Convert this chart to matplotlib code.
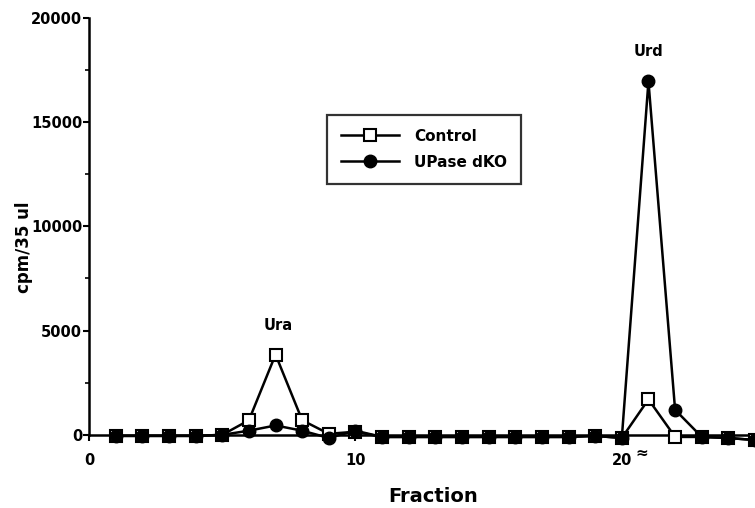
import numpy as np
import matplotlib.pyplot as plt

plt.rcParams['font.family'] = ['DejaVu Sans']
plt.rcParams['font.weight'] = 'bold'

fraction = np.arange(1, 26)
control = [-50, -50, -50, -50, 0, 700, 3850, 700, 50, 150,
           -100, -100, -100, -100, -100, -100, -100, -100, -50, -150,
           1700, -100, -100, -150, -250]
upase_dko = [-50, -50, -50, -50, 0, 200, 450, 200, -150, 200,
             -100, -100, -100, -100, -100, -100, -100, -100, -50, -150,
             16950, 1200, -100, -150, -250]

fig = plt.figure(figsize=(7.55, 5.08), dpi=100)
ax = fig.add_axes([0.118, 0.144, 0.882, 0.821])

ax.plot(fraction, control, color='black', lw=1.8, marker='s', ms=8,
        mfc='white', mec='black', mew=1.5, label='Control', zorder=3, clip_on=False)
ax.plot(fraction, upase_dko, color='black', lw=1.8, marker='o', ms=9,
        mfc='black', mec='black', label='UPase dKO', zorder=4, clip_on=False)

ax.set_xlim(0, 25)
ax.set_ylim(0, 20000)
ax.set_xticks([0, 10, 20])
ax.set_yticks([0, 5000, 10000, 15000, 20000])
ax.set_yticks(np.arange(0, 20001, 2500), minor=True)
ax.tick_params(axis='both', direction='out', labelsize=10.5, width=1.5, length=4)
ax.tick_params(axis='y', pad=1)
ax.tick_params(axis='x', pad=9)
ax.tick_params(axis='y', which='minor', length=3, width=1.2)
for lab in ax.get_xticklabels() + ax.get_yticklabels():
    lab.set_fontweight('bold')

for s in ['top', 'right']:
    ax.spines[s].set_visible(False)
for s in ['left', 'bottom']:
    ax.spines[s].set_linewidth(1.8)

ax.set_xlabel('Fraction', fontsize=14, fontweight='bold')
ax.xaxis.set_label_coords(0.517, -0.125)
ax.set_ylabel('cpm/35 ul', fontsize=12, fontweight='bold', va='center')
ax.yaxis.set_label_coords(-0.098, 0.451)

ax.text(7.1, 4900, 'Ura', fontsize=10.5, fontweight='bold', ha='center', va='bottom')
ax.text(21.0, 18000, 'Urd', fontsize=10.5, fontweight='bold', ha='center', va='bottom')
ax.text(20.75, -550, '≈', fontsize=11, fontweight='bold', ha='center', va='top')

leg = ax.legend(loc='upper left', bbox_to_anchor=(0.357, 0.767), fontsize=11,
                handlelength=3.8, handleheight=1.1, frameon=True, fancybox=False,
                edgecolor='black', borderpad=0.9, borderaxespad=0,
                labelspacing=0.7, handletextpad=1.0)
leg.get_frame().set_linewidth(1.6)
for t in leg.get_texts():
    t.set_fontweight('bold')

fig.savefig('out.png', dpi=100)
